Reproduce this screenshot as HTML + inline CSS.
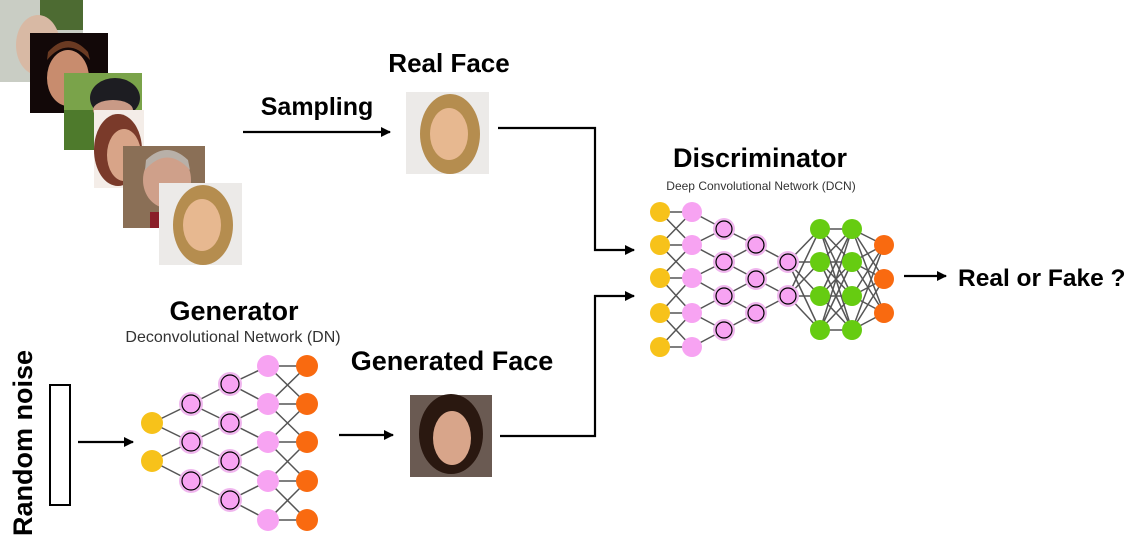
<!DOCTYPE html>
<html><head><meta charset="utf-8"><style>
html,body{margin:0;padding:0;background:#fff;width:1142px;height:536px;overflow:hidden}
svg text{font-family:"Liberation Sans",sans-serif}
</style></head><body>
<svg id="s" width="1142" height="536" viewBox="0 0 1142 536" xmlns="http://www.w3.org/2000/svg">
<defs>
<marker id="ah" markerWidth="10" markerHeight="10" refX="9" refY="5" orient="auto" markerUnits="userSpaceOnUse"><path d="M0,0 L10,5 L0,10 z" fill="#000"/></marker>
</defs>
<g>
<rect x="0" y="0" width="83" height="82" fill="#c9cdc4"/><rect x="40" y="0" width="43" height="30" fill="#4d6b32"/><ellipse cx="38" cy="45" rx="22" ry="30" fill="#d8b9a4"/>
<rect x="30" y="33" width="78" height="80" fill="#120808"/><ellipse cx="68" cy="78" rx="21" ry="28" fill="#c88c6e"/><path d="M47 60 Q68 35 90 60 L88 52 Q68 30 48 52z" fill="#6a3a22"/>
<rect x="64" y="73" width="78" height="77" fill="#7aa34a"/><rect x="64" y="110" width="30" height="40" fill="#4e7a2c"/><ellipse cx="115" cy="98" rx="25" ry="20" fill="#1d1d22"/><ellipse cx="113" cy="110" rx="20" ry="10" fill="#c99a86"/>
<rect x="94" y="110" width="50" height="78" fill="#f4ede8"/><ellipse cx="118" cy="150" rx="24" ry="36" fill="#7a3a2a"/><ellipse cx="124" cy="155" rx="17" ry="26" fill="#d8a488"/>
<rect x="123" y="146" width="82" height="82" fill="#8a6f56"/><ellipse cx="167" cy="180" rx="24" ry="28" fill="#cfa08a"/><path d="M145 170 Q167 145 190 170 L188 160 Q167 140 146 160z" fill="#b8b0a8"/><rect x="150" y="212" width="30" height="16" fill="#8a1e28"/>
<rect x="159" y="183" width="83" height="82" fill="#eceae8"/><ellipse cx="203" cy="225" rx="30" ry="40" fill="#b58d4f"/><ellipse cx="202" cy="225" rx="19" ry="26" fill="#e7b890"/>
</g>
<rect x="406" y="92" width="83" height="82" fill="#eceae8"/><ellipse cx="450" cy="134" rx="30" ry="40" fill="#b58d4f"/><ellipse cx="449" cy="134" rx="19" ry="26" fill="#e7b890"/>
<rect x="410" y="395" width="82" height="82" fill="#6a5a52"/><ellipse cx="451" cy="434" rx="32" ry="40" fill="#2a1810"/><ellipse cx="452" cy="438" rx="19" ry="27" fill="#d8a58a"/>
<text x="449" y="72" font-size="26" font-weight="bold" text-anchor="middle">Real Face</text>
<text x="317" y="115" font-size="25" font-weight="bold" text-anchor="middle">Sampling</text>
<text x="760" y="167" font-size="27" font-weight="bold" text-anchor="middle">Discriminator</text>
<text x="761" y="190" font-size="12" fill="#333" text-anchor="middle">Deep Convolutional Network (DCN)</text>
<text x="234" y="320" font-size="27" font-weight="bold" text-anchor="middle">Generator</text>
<text x="233" y="342" font-size="16" fill="#333" text-anchor="middle">Deconvolutional Network (DN)</text>
<text x="452" y="370" font-size="27" font-weight="bold" text-anchor="middle">Generated Face</text>
<text x="958" y="286" font-size="24.5" font-weight="bold">Real or Fake ?</text>
<text transform="translate(32,536) rotate(-90)" font-size="27" font-weight="bold">Random noise</text>
<rect x="50" y="385" width="20" height="120" fill="none" stroke="#000" stroke-width="2"/>
<g stroke="#000" stroke-width="2.2" fill="none">
<line x1="243" y1="132" x2="390" y2="132" marker-end="url(#ah)"/>
<line x1="78" y1="442" x2="133" y2="442" marker-end="url(#ah)"/>
<line x1="339" y1="435" x2="393" y2="435" marker-end="url(#ah)"/>
<line x1="904" y1="276" x2="946" y2="276" marker-end="url(#ah)"/>
<polyline points="498,128 595,128 595,250 634,250" marker-end="url(#ah)"/>
<polyline points="500,436 595,436 595,296 634,296" marker-end="url(#ah)"/>
</g>
<g id="net"></g>
</svg>
<script>
var g=document.getElementById('net'),lines='',nodes='';
var Y='#f7c21a',P='#f7a3f2',G='#66cc11',O='#f96a10';
function L(a,b){lines+='<line x1="'+a[0]+'" y1="'+a[1]+'" x2="'+b[0]+'" y2="'+b[1]+'" stroke="#555" stroke-width="1.5"/>';}
function N(x,y,c,r,ring){ if(ring){nodes+='<circle cx="'+x+'" cy="'+y+'" r="'+(r+1)+'" fill="#f0b6ee"/><circle cx="'+x+'" cy="'+y+'" r="'+(r-2)+'" fill="'+c+'" stroke="#000" stroke-width="1.2"/>';} else nodes+='<circle cx="'+x+'" cy="'+y+'" r="'+r+'" fill="'+c+'"/>';}
function layer(x,ys){return ys.map(function(y){return [x,y]});}
var g1=layer(152,[423,461]),g2=layer(191,[404,442,481]),g3=layer(230,[384,423,461,500]),g4=layer(268,[366,404,442,481,520]),g5=layer(307,[366,404,442,481,520]);
function tree(a,b){a.forEach(function(p,i){L(p,b[i]);L(p,b[i+1]);});}
tree(g1,g2);tree(g2,g3);tree(g3,g4);
g4.forEach(function(p,i){L(p,g5[i]);if(i>0)L(p,g5[i-1]);if(i<4)L(p,g5[i+1]);});
var d1=layer(660,[212,245,278,313,347]),d2=layer(692,[212,245,278,313,347]),d3=layer(724,[229,262,296,330]),d4=layer(756,[245,279,313]),d5=layer(788,[262,296]),d6=layer(820,[229,262,296,330]),d7=layer(852,[229,262,296,330]),d8=layer(884,[245,279,313]);
d1.forEach(function(p,i){L(p,d2[i]);if(i>0)L(p,d2[i-1]);if(i<4)L(p,d2[i+1]);});
tree(d3,d2);tree(d4,d3);tree(d5,d4);
function full(a,b){a.forEach(function(p){b.forEach(function(q){L(p,q);});});}
full(d5,d6);full(d6,d7);full(d7,d8);
g1.forEach(function(p){N(p[0],p[1],Y,11)});g2.forEach(function(p){N(p[0],p[1],P,11,1)});g3.forEach(function(p){N(p[0],p[1],P,11,1)});g4.forEach(function(p){N(p[0],p[1],P,11)});g5.forEach(function(p){N(p[0],p[1],O,11)});
d1.forEach(function(p){N(p[0],p[1],Y,10)});d2.forEach(function(p){N(p[0],p[1],P,10)});[d3,d4,d5].forEach(function(l){l.forEach(function(p){N(p[0],p[1],P,10,1)})});d6.forEach(function(p){N(p[0],p[1],G,10)});d7.forEach(function(p){N(p[0],p[1],G,10)});d8.forEach(function(p){N(p[0],p[1],O,10)});
g.innerHTML=lines+nodes;
</script>
</body></html>
